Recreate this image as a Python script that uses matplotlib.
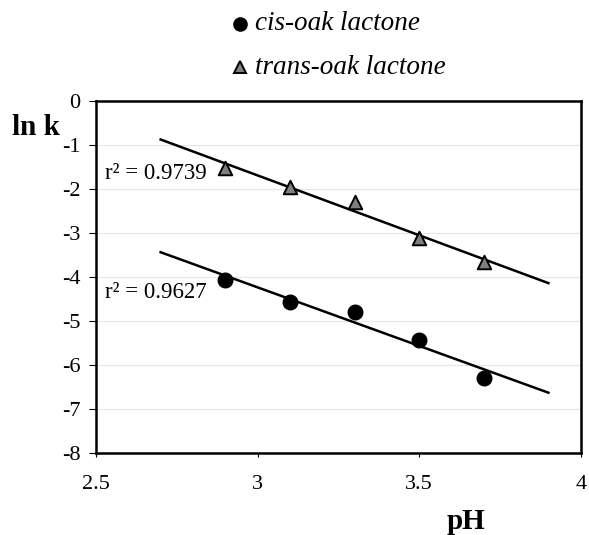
import numpy as np
import matplotlib
matplotlib.use("Agg")
import matplotlib.pyplot as plt

plt.rcParams['font.family'] = ['Liberation Serif', 'DejaVu Serif']
plt.rcParams['axes.unicode_minus'] = False

ph = [2.9, 3.1, 3.3, 3.5, 3.7]
cis_lnk = [-4.07, -4.57, -4.80, -5.43, -6.30]
trans_lnk = [-1.52, -1.95, -2.30, -3.11, -3.66]
cis_label = "cis-oak lactone"
trans_label = "trans-oak lactone"
fit_range = [2.7, 3.9]
r2_cis = "0.9627"
r2_trans = "0.9739"
x_ticks = [2.5, 3, 3.5, 4]
x_tick_labels = ['2.5', '3', '3.5', '4']
y_ticks = list(range(-8, 1))

fig = plt.figure(figsize=(5.89, 5.35), dpi=100)
ax = fig.add_axes([0.163, 0.1533, 0.823, 0.658])

ax.set_xlim(2.5, 4)
ax.set_ylim(-8, 0)
ax.set_yticks(y_ticks)
ax.set_xticks(x_ticks)
ax.set_xticklabels(x_tick_labels)
ax.grid(axis='y', color='#e6e6e6', linewidth=0.8)
ax.set_axisbelow(True)
for s in ax.spines.values():
    s.set_linewidth(1.8)
ax.tick_params(axis='y', labelsize=16, length=5, width=0.8, pad=6)
ax.tick_params(axis='x', labelsize=16, length=3, width=0.8, pad=13)

xf = np.array(fit_range)
for y in (trans_lnk, cis_lnk):
    m, b = np.polyfit(ph, y, 1)
    ax.plot(xf, m * xf + b, color='black', linewidth=1.8, zorder=2)

ax.scatter(ph, cis_lnk, marker='o', s=110, color='black', zorder=3)
ax.scatter(ph, trans_lnk, marker='^', s=95, facecolor='#7f7f7f',
           edgecolor='black', linewidth=1.4, zorder=3)

ax.text(2.528, -1.64, "r\u00b2 = " + r2_trans, fontsize=16.5, va='center', ha='left')
ax.text(2.528, -4.36, "r\u00b2 = " + r2_cis, fontsize=16.5, va='center', ha='left')

fig.text(0.02, 0.762, "ln k", fontsize=21, fontweight='bold', ha='left', va='center')
fig.text(0.791, 0.025, "pH", fontsize=21, fontweight='bold', ha='center', va='center')

# legend
lx, ltx = 240 / 589, 255 / 589
ys = [1 - 24 / 535, 1 - 67 / 535]
fig.add_artist(plt.Line2D([lx], [ys[0]], marker='o', markersize=9.5, color='black',
                          linestyle='none', transform=fig.transFigure))
fig.add_artist(plt.Line2D([lx], [ys[1]], marker='^', markersize=8, markerfacecolor='#7f7f7f',
                          markeredgecolor='black', markeredgewidth=1.4, linestyle='none',
                          transform=fig.transFigure))
fig.text(ltx, ys[0], cis_label, fontsize=19.5, style='italic', va='center', ha='left')
fig.text(ltx, ys[1], trans_label, fontsize=19.5, style='italic', va='center', ha='left')

fig.savefig("out.png", dpi=100)
